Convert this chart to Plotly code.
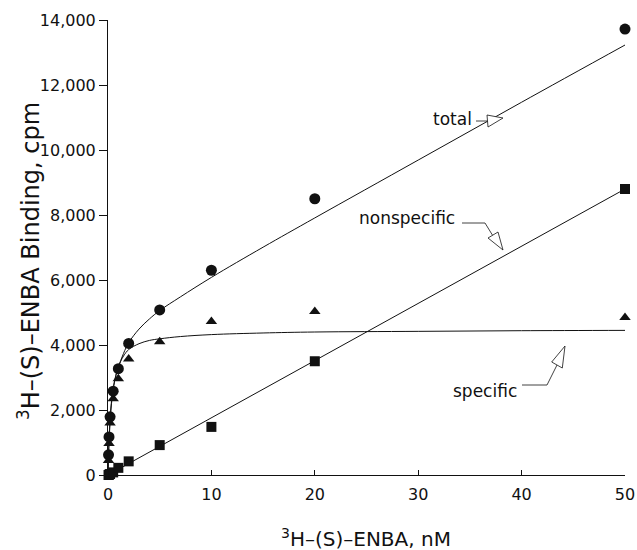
import plotly.graph_objects as go

# ---- data ----
conc = [0.05, 0.1, 0.2, 0.5, 1, 2, 5, 10, 20, 50]
total = [620, 1170, 1790, 2580, 3270, 4050, 5080, 6300, 8500, 13720]
specific = [450, 970, 1600, 2350, 2960, 3570, 4100, 4720, 5030, 4850]
nonspecific = [0, 10, 30, 80, 220, 420, 920, 1480, 3500, 8800]

# fitted curves
fit_x = [0, 0.05, 0.1, 0.2, 0.3, 0.5, 0.75, 1, 1.5, 2, 3, 4, 5, 7, 10, 15, 20, 30, 40, 50]
fit_specific = [0, 560, 990, 1620, 2060, 2640, 3060, 3330, 3660, 3860, 4040, 4140,
                4190, 4260, 4320, 4370, 4400, 4420, 4440, 4450]
fit_total = [0, 600, 1100, 1720, 2150, 2660, 3040, 3320, 3740, 4070, 4490, 4800,
             5060, 5480, 6080, 7010, 7910, 9690, 11470, 13230]
fit_ns_x = [0, 50]
fit_ns = [0, 8800]

x_ticks = [0, 10, 20, 30, 40, 50]
y_ticks = [0, 2000, 4000, 6000, 8000, 10000, 12000, 14000]
y_tick_labels = ["0", "2,000", "4,000", "6,000", "8,000", "10,000", "12,000", "14,000"]

FONT = "DejaVu Sans"
INK = "#111111"

W, H = 637, 550
L, R, T, B = 108, 12, 20, 75

fig = go.Figure()
line = dict(color=INK, width=1)
fig.add_trace(go.Scatter(x=fit_x, y=fit_total, mode="lines", line=line, line_shape="spline"))
fig.add_trace(go.Scatter(x=fit_x, y=fit_specific, mode="lines", line=line, line_shape="spline"))
fig.add_trace(go.Scatter(x=fit_ns_x, y=fit_ns, mode="lines", line=line))

fig.add_trace(go.Scatter(x=conc, y=specific, mode="markers", cliponaxis=False,
                         marker=dict(symbol="triangle-up", size=10, color=INK)))
fig.add_trace(go.Scatter(x=conc, y=nonspecific, mode="markers", cliponaxis=False,
                         marker=dict(symbol="square", size=10, color=INK)))
fig.add_trace(go.Scatter(x=conc, y=total, mode="markers", cliponaxis=False,
                         marker=dict(symbol="circle", size=11, color=INK)))

# pixel helpers for annotation arrows (plot area: x 108..625, y 475..20)
def dx(px):
    return (px - 108) / (517 / 50)

def dy(py):
    return (475 - py) / (455 / 14000)

def arrow(points, head):
    p = "M " + " L ".join(f"{dx(a)},{dy(b)}" for a, b in points)
    fig.add_shape(type="path", path=p, line=dict(color=INK, width=0.8), xref="x", yref="y")
    h = "M " + " L ".join(f"{dx(a)},{dy(b)}" for a, b in head) + " Z"
    fig.add_shape(type="path", path=h, line=dict(color=INK, width=0.8),
                  fillcolor="white", xref="x", yref="y")

ann_font = dict(family=FONT, size=17, color=INK)
# total
fig.add_annotation(x=dx(452), y=dy(119), text="total", showarrow=False, font=ann_font)
arrow([(476, 121), (488, 121)], [(487, 115), (503, 118), (488, 127)])
# nonspecific
fig.add_annotation(x=dx(407), y=dy(218), text="nonspecific", showarrow=False, font=ann_font)
arrow([(462, 223), (485, 223), (493, 236)], [(488, 238), (503, 250), (498, 232)])
# specific
fig.add_annotation(x=dx(485), y=dy(391), text="specific", showarrow=False, font=ann_font)
arrow([(522, 385), (547, 385), (557, 365)], [(551.7, 362), (565, 346), (562.3, 368)])

# axis titles as positioned text
fig.add_annotation(xref="paper", yref="paper", x=(366 - 108) / 517, y=(475 - 538) / 455,
                   text="<sup>3</sup>H–(S)–ENBA, nM", showarrow=False,
                   xanchor="center", yanchor="middle",
                   font=dict(family=FONT, size=20, color=INK))
fig.add_annotation(xref="paper", yref="paper", x=(29 - 108) / 517, y=(475 - 261) / 455,
                   text="<sup>3</sup>H–(S)–ENBA Binding, cpm", showarrow=False, textangle=-90,
                   xanchor="center", yanchor="middle",
                   font=dict(family=FONT, size=24, color=INK))

fig.update_layout(
    width=W, height=H,
    margin=dict(l=L, r=R, t=T, b=B),
    paper_bgcolor="white", plot_bgcolor="white",
    showlegend=False,
    font=dict(family=FONT, size=13, color=INK),
)
fig.update_xaxes(
    range=[0, 50], tickvals=x_ticks, ticks="inside", ticklen=5, tickcolor=INK,
    showline=True, linecolor=INK, linewidth=1, showgrid=False, zeroline=False,
    automargin=False, ticklabelstandoff=5,
    tickfont=dict(family=FONT, size=16, color=INK),
)
fig.update_yaxes(
    range=[0, 14000], tickvals=y_ticks, ticktext=y_tick_labels, ticks="outside",
    ticklen=8, tickcolor=INK,
    showline=True, linecolor=INK, linewidth=1, showgrid=False, zeroline=False,
    automargin=False,
    tickfont=dict(family=FONT, size=16, color=INK),
)

fig.write_html(
    "out.html",
    config={"displayModeBar": False, "staticPlot": True},
    post_script="document.body.style.margin='0';document.documentElement.style.overflow='hidden';",
)
